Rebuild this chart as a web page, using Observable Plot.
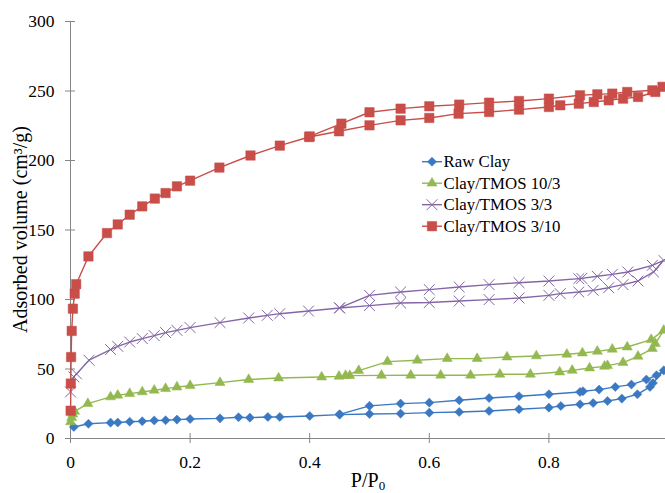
<!DOCTYPE html>
<html><head><meta charset="utf-8">
<script src="https://cdn.jsdelivr.net/npm/d3@7"></script>
<script src="https://cdn.jsdelivr.net/npm/@observablehq/plot@0.6"></script>
<style>
body{margin:0;background:#fff;}
#chart{position:relative;width:665px;height:493px;overflow:hidden;background:#fff;}
#chart svg{overflow:hidden;}
#chart svg text{font-family:"Liberation Serif","Times New Roman",serif;}
</style>
</head><body><div id="chart"></div>
<script>
// ---- data (adsorption branch ascending, then desorption branch descending) ----
const seriesNames = ["Raw Clay", "Clay/TMOS 10/3", "Clay/TMOS 3/3", "Clay/TMOS 3/10"];

const rawClayP = [0.0056,0.03,0.067,0.079,0.099,0.12,0.14,0.159,0.178,0.2,0.25,0.281,0.3,0.33,0.35,0.4,0.45,0.5,0.552,0.6,0.65,0.7,0.75,0.8,0.82,0.852,0.874,0.898,0.922,0.948,0.969,0.974,0.992,
  0.98,0.963,0.938,0.911,0.884,0.857,0.852,0.8,0.75,0.7,0.65,0.6,0.552,0.5,0.45];
const rawClayV = [8.3,10.6,11.4,11.5,12.1,12.4,13.0,13.1,13.6,14.0,14.5,15.3,15.0,15.5,15.5,16.2,17.2,17.6,17.9,18.6,19.1,19.8,21.0,22.2,23.4,24.6,25.5,27.0,28.7,31.8,37.1,39.9,49.0,
  45.5,42.4,38.8,37.1,35.2,34.0,33.5,31.8,30.4,29.1,27.5,25.8,25.1,23.5,17.4];

const tmos103P = [0.0,0.002,0.004,0.007,0.029,0.067,0.079,0.099,0.12,0.14,0.159,0.178,0.2,0.25,0.298,0.348,0.42,0.449,0.467,0.52,0.569,0.619,0.669,0.718,0.769,0.818,0.839,0.868,0.893,0.898,0.924,0.949,0.973,0.978,0.992,
  0.971,0.931,0.906,0.881,0.856,0.83,0.779,0.73,0.68,0.63,0.58,0.53,0.482,0.46];
const tmos103V = [11.9,15.0,17.5,19.5,25.1,29.9,31.1,32.3,33.5,34.7,35.9,37.0,38.0,40.2,42.4,43.5,44.2,44.7,45.2,45.4,45.5,45.5,45.5,46.2,46.2,47.8,49.0,50.7,51.9,52.4,54.6,59.1,64.7,68.3,77.8,
  71.1,65.8,64.2,62.7,61.5,60.6,59.4,58.6,57.5,57.5,56.3,55.3,48.8,45.3];

const tmos33P = [0.0,0.0056,0.01,0.031,0.067,0.079,0.099,0.12,0.14,0.159,0.178,0.2,0.25,0.298,0.329,0.35,0.398,0.45,0.5,0.552,0.6,0.65,0.7,0.75,0.8,0.819,0.85,0.874,0.9,0.924,0.949,0.975,0.992,
  0.973,0.932,0.906,0.881,0.855,0.85,0.8,0.75,0.7,0.65,0.6,0.552,0.5,0.45];
const tmos33V = [33.5,44.3,46.5,56.3,64.0,66.3,69.4,71.9,74.0,76.2,77.8,79.8,83.4,86.7,88.6,89.8,91.7,93.9,95.6,97.5,97.8,98.9,99.9,101.1,103.0,104.2,105.4,106.6,108.5,110.7,113.3,119.8,128.2,
  124.6,119.8,118.1,116.7,115.2,115.0,113.3,112.1,110.7,109.0,107.1,105.4,103.0,94.0];

const tmos310P = [0.0002,0.0005,0.001,0.002,0.004,0.007,0.0095,0.03,0.061,0.079,0.099,0.12,0.141,0.159,0.178,0.2,0.249,0.301,0.35,0.399,0.449,0.5,0.552,0.6,0.649,0.7,0.75,0.8,0.819,0.85,0.875,0.9,0.924,0.949,0.978,0.99,
  0.973,0.931,0.906,0.881,0.852,0.8,0.75,0.7,0.65,0.6,0.552,0.5,0.453,0.4];
const tmos310V = [20,39.5,58.6,77.4,93.4,104.2,111,131,147.8,154,161,167,172.6,176.6,181.4,185.5,194.9,203.6,210.7,216.9,221,225.3,228.9,230.6,233.7,234.9,236.6,238.5,239.7,240.9,242.1,243.3,244.5,245.7,249.3,253,
  250.5,249.3,248.1,247.6,246.9,244.5,242.8,241.6,240.2,239,237.3,234.7,226.5,217.3];

const xTicks = [0, 0.2, 0.4, 0.6, 0.8, 1];
const xLabelTicks = [0, 0.2, 0.4, 0.6, 0.8];
const xTickLabels = ["0", "0.2", "0.4", "0.6", "0.8"];
const yTicks = [0, 50, 100, 150, 200, 250, 300];
const xTitle = "P/P";
const xTitleSub = "0";
const yTitle = "Adsorbed volume (cm³/g)";

// ---- styles ----
const styles = [
  {color: "#3b78c2", symbol: "diamond2", d3sym: d3.symbolDiamond2, r: 4.1, filled: true},
  {color: "#93b84f", symbol: "triangle2", d3sym: d3.symbolTriangle2, r: 4.8, filled: true},
  {color: "#8466a6", symbol: "times", d3sym: d3.symbolTimes, r: 5, filled: false},
  {color: "#c94d48", symbol: "square2", d3sym: d3.symbolSquare2, r: 6, filled: true}
];
const seriesP = [rawClayP, tmos103P, tmos33P, tmos310P];
const seriesV = [rawClayV, tmos103V, tmos33V, tmos310V];

const rows = [];
seriesNames.forEach((name, s) => {
  seriesP[s].forEach((p, i) => rows.push({series: name, s, i, p, v: seriesV[s][i]}));
});

const font = "Liberation Serif, Times New Roman, serif";
const marks = [
  Plot.ruleY([0], {stroke: "#868686", strokeWidth: 1}),
  Plot.ruleX([0], {stroke: "#868686", strokeWidth: 1}),
  Plot.axisY(yTicks, {tickSize: 10, dx: 5, tickFormat: () => "", stroke: "#868686", label: null}),
  Plot.axisY(yTicks, {tickSize: 0, tickPadding: 16, fill: "#000", label: null, fontSize: 17.5}),
  Plot.axisX(xTicks, {tickSize: 10, dy: -5, tickFormat: () => "", stroke: "#868686", label: null}),
  Plot.axisX(xLabelTicks, {tickSize: 0, tickPadding: 17, fill: "#000", label: null, fontSize: 17.5,
    tickFormat: (d) => xTickLabels[xLabelTicks.indexOf(d)]})
];
seriesNames.forEach((name, s) => {
  const st = styles[s];
  const data = rows.filter(d => d.s === s);
  marks.push(Plot.line(data, {x: "p", y: "v", stroke: st.color, strokeWidth: 1.4}));
  marks.push(Plot.dot(data, {x: "p", y: "v", symbol: () => st.symbol, r: st.r,
    fill: st.filled ? st.color : "none", stroke: st.color, strokeWidth: st.filled ? 0.5 : 1}));
});

const plot = Plot.plot({
  width: 665, height: 493,
  marginLeft: 70, marginRight: 0, marginTop: 21, marginBottom: 55,
  style: {fontFamily: font, fontSize: "17.5px", background: "#fff", color: "#000"},
  x: {domain: [0, 1], range: [70, 668]},
  y: {domain: [0, 300]},
  symbol: {type: "identity"},
  marks
});
document.getElementById("chart").appendChild(plot);

// ---- titles and legend (pixel layout) ----
const svg = d3.select(plot);
const xt = svg.append("text").attr("x", 368).attr("y", 487)
  .attr("text-anchor", "middle").style("font-family", font).style("font-size", "20px").attr("fill", "#000");
xt.append("tspan").text(xTitle);
xt.append("tspan").style("font-size", "13px").attr("dy", 3).text(xTitleSub);

svg.append("text").attr("transform", "translate(26.5,229.5) rotate(-90)")
  .attr("text-anchor", "middle").style("font-family", font).style("font-size", "20px").attr("fill", "#000")
  .text(yTitle);

const lg = svg.append("g").attr("transform", "translate(422,161.7)");
seriesNames.forEach((name, s) => {
  const st = styles[s];
  const g = lg.append("g").attr("transform", `translate(0,${s * 21.5})`);
  g.append("line").attr("x1", 0).attr("x2", 20).attr("y1", 0).attr("y2", 0)
    .attr("stroke", st.color).attr("stroke-width", 1.4);
  g.append("path").attr("transform", "translate(10,0)")
    .attr("d", d3.symbol(st.d3sym, Math.PI * st.r * st.r)())
    .attr("fill", st.filled ? st.color : "none").attr("stroke", st.color)
    .attr("stroke-width", st.filled ? 0.5 : 1);
  g.append("text").attr("x", 21.5).attr("y", 5.5).attr("text-anchor", "start")
    .style("font-family", font).style("font-size", "16.8px").attr("fill", "#000").text(name);
});
</script>
</body></html>
